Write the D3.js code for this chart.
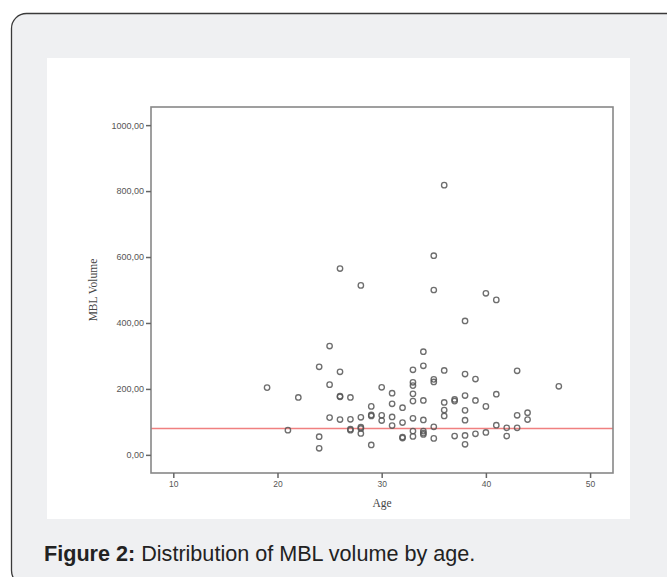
<!DOCTYPE html>
<html>
<head>
<meta charset="utf-8">
<script src="https://cdn.jsdelivr.net/npm/d3@7"></script>
<style>
  body { margin: 0; background: #fff; }
  svg { display: block; }
</style>
</head>
<body>
<div id="chart"></div>
<script>
// Age / MBL volume pairs
const ages = [
  19, 21, 22,
  24, 24, 24,
  25, 25, 25,
  26, 26, 26, 26, 26,
  27, 27, 27, 27,
  28, 28, 28, 28, 28,
  29, 29, 29, 29,
  30, 30, 30,
  31, 31, 31, 31,
  32, 32, 32, 32,
  33, 33, 33, 33, 33, 33, 33, 33,
  34, 34, 34, 34, 34, 34, 34,
  35, 35, 35, 35, 35, 35,
  36, 36, 36, 36, 36,
  37, 37, 37,
  38, 38, 38, 38, 38, 38, 38,
  39, 39, 39,
  40, 40, 40,
  41, 41, 41,
  42, 42,
  43, 43, 43,
  44, 44,
  47
];
const mblVolume = [
  204, 75, 174,
  267, 55, 20,
  330, 213, 113,
  565, 252, 178, 176, 107,
  174, 108, 78, 75,
  514, 114, 84, 80, 65,
  147, 121, 118, 30,
  205, 120, 104,
  187, 155, 115, 89,
  143, 98, 54, 51,
  258, 220, 210, 185, 163, 111, 72, 56,
  313, 270, 165, 106, 72, 66, 62,
  604, 500, 229, 221, 85, 50,
  818, 256, 159, 136, 118,
  168, 163, 57,
  406, 245, 180, 135, 105, 59, 32,
  230, 165, 64,
  490, 147, 68,
  470, 184, 90,
  82, 57,
  255, 120, 82,
  128, 107,
  208
];
const xTicks = [10, 20, 30, 40, 50];
const yTicks = [0, 200, 400, 600, 800, 1000];
const referenceLine = 80;

const W = 667, H = 577;
const svg = d3.select("#chart").append("svg")
  .attr("width", W)
  .attr("height", H);

// card
svg.append("rect")
  .attr("x", 11.5).attr("y", 13.5)
  .attr("width", 670).attr("height", 572)
  .attr("rx", 15).attr("ry", 15)
  .attr("fill", "#eff0f2")
  .attr("stroke", "#3a3a3a")
  .attr("stroke-width", 1.3);

// white figure panel
svg.append("rect")
  .attr("x", 47).attr("y", 58)
  .attr("width", 583).attr("height", 461)
  .attr("fill", "#fff");

const plot = { left: 151, right: 613, top: 107, bottom: 473 };

const x = d3.scaleLinear().domain([7.86, 52.2]).range([plot.left, plot.right]);
const y = d3.scaleLinear().domain([-55, 1055]).range([plot.bottom, plot.top]);

const g = svg.append("g");

// reference line
g.append("line")
  .attr("x1", plot.left).attr("x2", plot.right)
  .attr("y1", y(referenceLine)).attr("y2", y(referenceLine))
  .attr("stroke", "#f08080")
  .attr("stroke-width", 1.5);

// points
g.append("g").selectAll("circle")
  .data(ages.map((a, i) => [a, mblVolume[i]]))
  .join("circle")
  .attr("cx", d => x(d[0]))
  .attr("cy", d => y(d[1]))
  .attr("r", 2.7)
  .attr("fill", "none")
  .attr("stroke", "#555")
  .attr("stroke-opacity", 0.85)
  .attr("stroke-width", 1.35);

// frame
g.append("rect")
  .attr("x", plot.left).attr("y", plot.top)
  .attr("width", plot.right - plot.left)
  .attr("height", plot.bottom - plot.top)
  .attr("fill", "none")
  .attr("stroke", "#888")
  .attr("stroke-width", 1.6);

const tickFont = "'Liberation Sans', Arial, sans-serif";

const yAxis = svg.append("g")
  .attr("transform", `translate(${plot.left},0)`)
  .call(d3.axisLeft(y).tickValues(yTicks).tickSize(5).tickPadding(2)
    .tickFormat(d => d3.format(".2f")(d).replace(".", ",")));
yAxis.select(".domain").remove();
yAxis.selectAll("line").attr("stroke", "#666").attr("stroke-width", 1.5);
yAxis.selectAll("text")
  .attr("fill", "#555")
  .style("font", `9px ${tickFont}`);

const xAxis = svg.append("g")
  .attr("transform", `translate(0,${plot.bottom})`)
  .call(d3.axisBottom(x).tickValues(xTicks).tickSize(5).tickPadding(3));
xAxis.select(".domain").remove();
xAxis.selectAll("line").attr("stroke", "#666").attr("stroke-width", 1.5);
xAxis.selectAll("text")
  .attr("fill", "#555")
  .style("font", `8.5px ${tickFont}`);

// axis titles
svg.append("text")
  .attr("x", (plot.left + plot.right) / 2)
  .attr("y", 507)
  .attr("text-anchor", "middle")
  .attr("fill", "#444")
  .style("font", "11.5px 'Liberation Serif', 'Times New Roman', serif")
  .text("Age");

svg.append("text")
  .attr("transform", `translate(97,${(plot.top + plot.bottom) / 2}) rotate(-90)`)
  .attr("text-anchor", "middle")
  .attr("fill", "#444")
  .style("font", "11.5px 'Liberation Serif', 'Times New Roman', serif")
  .text("MBL Volume");

// caption
const cap = svg.append("text")
  .attr("x", 44)
  .attr("y", 561)
  .attr("fill", "#222")
  .style("font", "21.6px 'Liberation Sans', Arial, sans-serif");
cap.append("tspan").attr("font-weight", "bold").text("Figure 2:");
cap.append("tspan").text(" Distribution of MBL volume by age.");
</script>
</body>
</html>
